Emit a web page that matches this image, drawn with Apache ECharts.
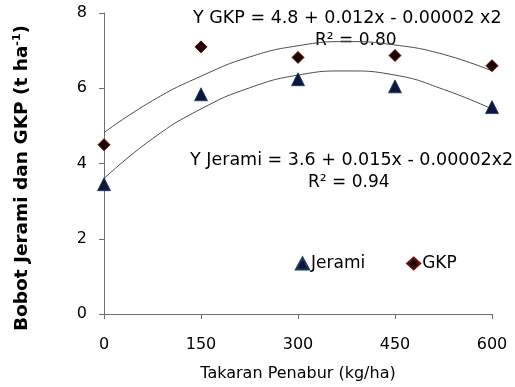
<!DOCTYPE html>
<html>
<head>
<meta charset="utf-8">
<script src="https://cdn.jsdelivr.net/npm/echarts@6/dist/echarts.min.js"></script>
<style>
  html, body { margin: 0; padding: 0; background: #fff; }
  #chart { width: 515px; height: 387px; }
</style>
</head>
<body>
<div id="chart"></div>
<script>
// takaran penabur (kg/ha)
var dosis = [0, 150, 300, 450, 600];
var jerami = [3.45, 5.84, 6.24, 6.05, 5.5];
var gkp = [4.5, 7.1, 6.82, 6.87, 6.6];

// garis trend
var trendX = [0, 75, 150, 225, 300, 375, 450, 525, 600];
var trendJerami = [3.6, 4.66, 5.45, 6.01, 6.35, 6.46, 6.35, 5.97, 5.45];
var trendGkp = [4.82, 5.67, 6.32, 6.83, 7.13, 7.24, 7.15, 6.9, 6.46];

function pairs(xs, ys) {
    return xs.map(function (x, i) { return [x, ys[i]]; });
}

var chart = echarts.init(document.getElementById('chart'));
var font = 'DejaVu Sans, sans-serif';
var axisColor = '#6e6e6e';

var option = {
    animation: false,
    grid: { left: 104, right: 23, top: 13, bottom: 70 },
    legend: {
        left: 290,
        top: 250,
        itemGap: 41,
        itemWidth: 13,
        itemHeight: 12,
        textStyle: { fontFamily: font, fontSize: 17, color: '#000', padding: [0, 0, 0, -3] },
        data: [
            { name: 'Jerami', icon: 'triangle' },
            { name: 'GKP', icon: 'diamond' }
        ]
    },
    xAxis: {
        type: 'value',
        min: 0,
        max: 600,
        interval: 150,
        name: 'Takaran Penabur (kg/ha)',
        nameLocation: 'middle',
        nameGap: 52,
        nameTextStyle: { fontFamily: font, fontSize: 16, color: '#000' },
        axisLine: { show: true, lineStyle: { color: axisColor } },
        axisTick: { show: true, length: 5, lineStyle: { color: axisColor } },
        axisLabel: { fontFamily: font, fontSize: 16, color: '#000', margin: 23 },
        splitLine: { show: false }
    },
    yAxis: {
        type: 'value',
        min: 0,
        max: 8,
        interval: 2,
        axisLine: { show: true, lineStyle: { color: axisColor } },
        axisTick: { show: true, length: 5, lineStyle: { color: axisColor } },
        axisLabel: { fontFamily: font, fontSize: 16, color: '#000', margin: 17 },
        splitLine: { show: false }
    },
    series: [
        {
            name: 'trend GKP',
            type: 'line',
            smooth: true,
            showSymbol: false,
            silent: true,
            lineStyle: { color: '#4a4a4a', width: 1 },
            data: pairs(trendX, trendGkp),
            z: 1
        },
        {
            name: 'trend Jerami',
            type: 'line',
            smooth: true,
            showSymbol: false,
            silent: true,
            lineStyle: { color: '#4a4a4a', width: 1 },
            data: pairs(trendX, trendJerami),
            z: 1
        },
        {
            name: 'Jerami',
            type: 'scatter',
            symbol: 'triangle',
            symbolSize: 13,
            itemStyle: { color: '#0c1838', borderColor: '#1f3468', borderWidth: 0.8, opacity: 1 },
            data: pairs(dosis, jerami),
            z: 3
        },
        {
            name: 'GKP',
            type: 'scatter',
            symbol: 'diamond',
            symbolSize: 12,
            itemStyle: { color: '#1a0505', borderColor: '#6a1010', borderWidth: 1, opacity: 1 },
            data: pairs(dosis, gkp),
            z: 3
        }
    ],
    graphic: [
        {
            type: 'text',
            x: 22,
            y: 178,
            rotation: Math.PI / 2,
            style: {
                text: '{b|Bobot Jerami dan GKP (t ha}{s|-1}{b|)}',
                align: 'center',
                verticalAlign: 'middle',
                rich: {
                    b: { fontFamily: font, fontSize: 18.5, fontWeight: 'bold', fill: '#000' },
                    s: { fontFamily: font, fontSize: 11, fontWeight: 'bold', fill: '#000', padding: [0, 0, 10, 0] }
                }
            }
        },
        { type: 'text', left: 193, top: 9, style: { text: 'Y GKP = 4.8 + 0.012x - 0.00002 x2', font: '17.5px ' + font, fill: '#000' } },
        { type: 'text', left: 315, top: 32, style: { text: 'R² = 0.80', font: '17px ' + font, fill: '#000' } },
        { type: 'text', left: 190, top: 151, style: { text: 'Y Jerami = 3.6 + 0.015x - 0.00002x2', font: '17.5px ' + font, fill: '#000' } },
        { type: 'text', left: 308, top: 174, style: { text: 'R² = 0.94', font: '17px ' + font, fill: '#000' } }
    ]
};

chart.setOption(option);
</script>
</body>
</html>
